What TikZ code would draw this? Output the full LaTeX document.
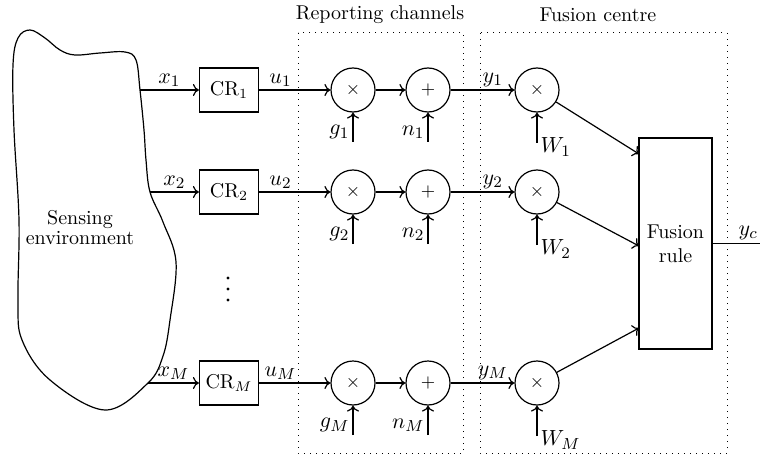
\documentclass[tikz,border=0pt]{standalone}
\usetikzlibrary{arrows.meta}
\begin{document}
\begin{tikzpicture}[x=0.5pt,y=-0.5pt,
  font=\fontsize{10}{12}\selectfont,
  line width=0.6pt,
  >={To[length=3pt,width=6pt]},
  op/.style={circle, draw, minimum size=22pt, inner sep=0pt, font=\fontsize{9}{10}\selectfont},
  crbox/.style={draw, minimum width=29.5pt, minimum height=22pt, inner sep=0pt},
  lbl/.style={inner sep=1.5pt, font=\fontsize{11}{12}\selectfont},
  region/.style={line width=0.5pt, dash pattern=on 0.5pt off 2.5pt},
  dotmark/.style={circle, fill, inner sep=0pt, minimum size=1.6pt}]

\useasboundingbox (0,0) rectangle (760,460);

% sensing environment blob
\draw plot[smooth cycle, tension=0.6] coordinates {
  (13,65) (18,38) (30,30) (45,38) (60,50) (75,55) (100,53) (125,52) (136,60)
  (140,90) (144,130) (146,160) (150,192) (163,222) (176,262) (170,320)
  (163,356) (148,383) (105,410) (50,380) (22,340) (18,300) (19,220) (14,130)};
\node[align=center] (env) at (80,228) {Sensing\\[-2pt]environment};

% regions
\draw[region] (298,33) rectangle (463,453);
\draw[region] (480,33) rectangle (727,453);
\node (rc) at (380,15) {Reporting channels};
\node (fc) at (598,15) {Fusion centre};

\node[dotmark] (d1) at (228,278) {};
\node[dotmark] (d2) at (228,289) {};
\node[dotmark] (d3) at (228,300) {};

% fusion rule
\node[draw, minimum width=36.5pt, minimum height=105.5pt, align=center, inner sep=0pt] (fr) at (675.5,243.5) {Fusion\\rule};
\coordinate (out) at (760,243.5);
\draw (fr.east) -- (out) node[lbl, pos=0.75, above] {$y_c$};

\foreach \r/\y/\sx/\ty in {1/90/140/154, 2/192/150/246, M/383/148/328}{
  \coordinate (s\r) at (\sx,\y);
  \node[crbox] (cr\r) at (229,\y) {CR$_\r$};
  \node[op] (m\r) at (353,\y) {$\times$};
  \node[op] (a\r) at (428,\y) {$+$};
  \node[op] (f\r) at (537,\y) {$\times$};
  \coordinate (g\r) at (353,\y+52);
  \coordinate (n\r) at (428,\y+52);
  \coordinate (w\r) at (537,\y+53);
  \coordinate (t\r) at (639,\ty);
  \draw[->] (s\r) -- (cr\r) node[lbl, midway, above] {$x_\r$};
  \draw[->] (cr\r) -- (m\r) node[lbl, pos=0.3, above] {$u_\r$};
  \draw[->] (m\r) -- (a\r);
  \draw[->] (a\r) -- (f\r) node[lbl, pos=0.66, above] {$y_\r$};
  \draw[->] (g\r) -- (m\r) node[lbl, pos=0.33, left] {$g_\r$};
  \draw[->] (n\r) -- (a\r) node[lbl, pos=0.33, left] {$n_\r$};
  \draw[->] (w\r) -- (f\r) node[lbl, pos=0, anchor=west, yshift=-2pt] {$W_\r$};
  \draw[->] (f\r) -- (t\r);
}
\end{tikzpicture}
\end{document}
